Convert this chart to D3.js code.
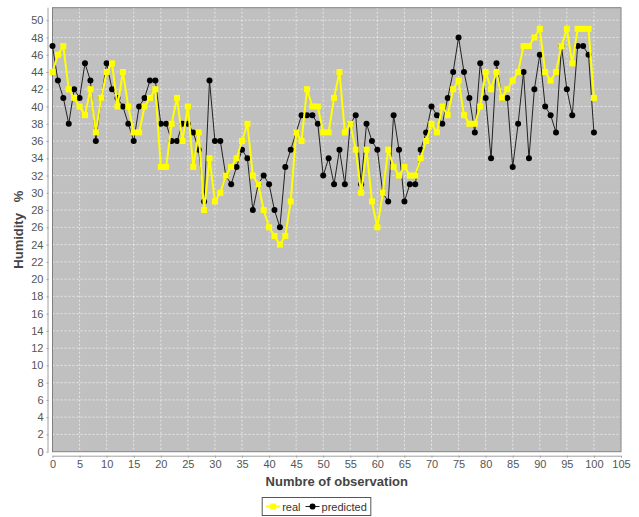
<!DOCTYPE html>
<html><head><meta charset="utf-8">
<script src="https://cdn.jsdelivr.net/npm/d3@7"></script>
<style>body{margin:0;background:#fff}svg{display:block}</style>
</head><body>
<svg id="c" width="639" height="517"></svg>
<script>
const real = [44,46,47,42,41,40,39,42,37,41,44,45,40,44,40,37,37,40,41,42,
  33,33,38,41,36,40,33,37,28,34,29,30,32,33,34,36,38,32,31,28,
  26,25,24,25,29,37,36,42,40,40,37,37,41,44,37,38,35,30,35,29,
  26,30,35,33,32,33,32,32,34,36,38,37,40,39,42,43,39,38,38,40,
  44,42,44,41,42,43,44,47,47,48,49,44,43,44,47,49,45,49,49,49,41];
const predicted = [47,43,41,38,42,41,45,43,36,41,45,42,41,40,38,36,40,41,43,43,
  38,38,36,36,38,38,37,35,29,43,36,36,32,31,33,35,34,28,31,32,
  31,28,26,33,35,37,39,39,39,38,32,34,31,35,31,38,39,31,38,36,
  35,30,29,39,35,29,31,31,35,37,40,39,38,41,44,48,44,41,37,45,
  41,34,45,41,41,33,38,44,34,42,46,40,39,37,47,42,39,47,47,46,37];
const xTicks = [0,5,10,15,20,25,30,35,40,45,50,55,60,65,70,75,80,85,90,95,100,105];
const yTicks = [0,2,4,6,8,10,12,14,16,18,20,22,24,26,28,30,32,34,36,38,40,42,44,46,48,50];
const seriesNames = ["real","predicted"];

const svg = d3.select("#c");
const L = 52.5, R = 621, T = 7.7, B = 451.7;
const x = d3.scaleLinear().domain([0,105]).range([L,R]);
const y = d3.scaleLinear().domain([0,51.45]).range([B,T]);
const font = "Liberation Sans, Arial, sans-serif";

// plot background
svg.append("rect").attr("x",L).attr("y",T).attr("width",R-L).attr("height",B-T)
  .attr("fill","#c0c0c0");
// grid
const g = svg.append("g");
g.selectAll("line.gx").data(xTicks).join("line")
  .attr("x1",d=>x(d)).attr("x2",d=>x(d)).attr("y1",T).attr("y2",B)
  .attr("stroke","#ffffff").attr("stroke-width",0.6).attr("stroke-dasharray","2,2");
g.selectAll("line.gy").data(yTicks).join("line")
  .attr("y1",d=>y(d)).attr("y2",d=>y(d)).attr("x1",L).attr("x2",R)
  .attr("stroke","#ffffff").attr("stroke-width",0.6).attr("stroke-dasharray","2,2");
svg.append("rect").attr("x",L).attr("y",T).attr("width",R-L).attr("height",B-T)
  .attr("fill","none").attr("stroke","#808080").attr("stroke-width",1);

// axes
const xAxis = d3.axisBottom(x).tickValues(xTicks).tickSize(2).tickPadding(3).tickSizeOuter(0);
const yAxis = d3.axisLeft(y).tickValues(yTicks).tickSize(2).tickPadding(3).tickSizeOuter(0);
const ax = svg.append("g").attr("transform",`translate(0,${B+4})`).call(xAxis);
const ay = svg.append("g").attr("transform",`translate(${L-4},0)`).call(yAxis);
[ax,ay].forEach(a=>{
  a.select(".domain").attr("stroke","#a0a0a0");
  a.selectAll(".tick line").attr("stroke","#a0a0a0");
  a.selectAll(".tick text").attr("fill","#555").attr("font-family",font).attr("font-size",11);
});
ax.select(".domain").attr("d",`M${L},0.5H${R}`);
ay.select(".domain").attr("d",`M-0.5,${T}V${B}`);

// axis labels
svg.append("text").attr("x",(L+R)/2).attr("y",486).attr("text-anchor","middle")
  .attr("font-family",font).attr("font-weight","bold").attr("font-size",13).attr("fill","#444")
  .text("Numbre of observation");
svg.append("text").attr("transform",`translate(23,${(T+B)/2}) rotate(-90)`).attr("text-anchor","middle")
  .attr("font-family",font).attr("font-weight","bold").attr("font-size",13).attr("fill","#444")
  .style("white-space","pre")
  .text("Humidity   %");

// lines
const line = d3.line().x((d,i)=>x(i)).y(d=>y(d));
svg.append("path").datum(predicted).attr("d",line).attr("fill","none")
  .attr("stroke","#222").attr("stroke-width",1);
svg.append("g").selectAll("circle").data(predicted).join("circle")
  .attr("cx",(d,i)=>x(i)).attr("cy",d=>y(d)).attr("r",3).attr("fill","#000");
svg.append("path").datum(real).attr("d",line).attr("fill","none")
  .attr("stroke","#ffff00").attr("stroke-width",2);
svg.append("g").selectAll("rect").data(real).join("rect")
  .attr("x",(d,i)=>x(i)-3).attr("y",d=>y(d)-3).attr("width",6).attr("height",6).attr("fill","#ffff00");

// legend
const lg = svg.append("g");
const box = lg.append("rect").attr("y",497.5).attr("height",18)
  .attr("fill","#fff").attr("stroke","#555").attr("stroke-width",1);
const cy = 506.5;
let cx = 0;
const items = lg.append("g");
seriesNames.forEach((name,k)=>{
  const it = items.append("g").attr("transform",`translate(${cx},0)`);
  if(k===0){
    it.append("line").attr("x1",0).attr("x2",14).attr("y1",cy).attr("y2",cy)
      .attr("stroke","#ffff00").attr("stroke-width",2);
    it.append("rect").attr("x",4).attr("y",cy-3).attr("width",6).attr("height",6).attr("fill","#ffff00");
  } else {
    it.append("line").attr("x1",0).attr("x2",14).attr("y1",cy).attr("y2",cy)
      .attr("stroke","#222").attr("stroke-width",1);
    it.append("circle").attr("cx",7).attr("cy",cy).attr("r",3).attr("fill","#000");
  }
  const t = it.append("text").attr("x",16).attr("y",cy+4).attr("font-family",font).attr("font-size",11)
    .attr("fill","#333").text(name);
  cx += 16 + t.node().getComputedTextLength() + 5;
});
const total = cx - 5;
const bx = 316.5 - (total+8)/2;
box.attr("x",bx).attr("width",total+8);
items.attr("transform",`translate(${bx+4},0)`);
</script>
</body></html>
